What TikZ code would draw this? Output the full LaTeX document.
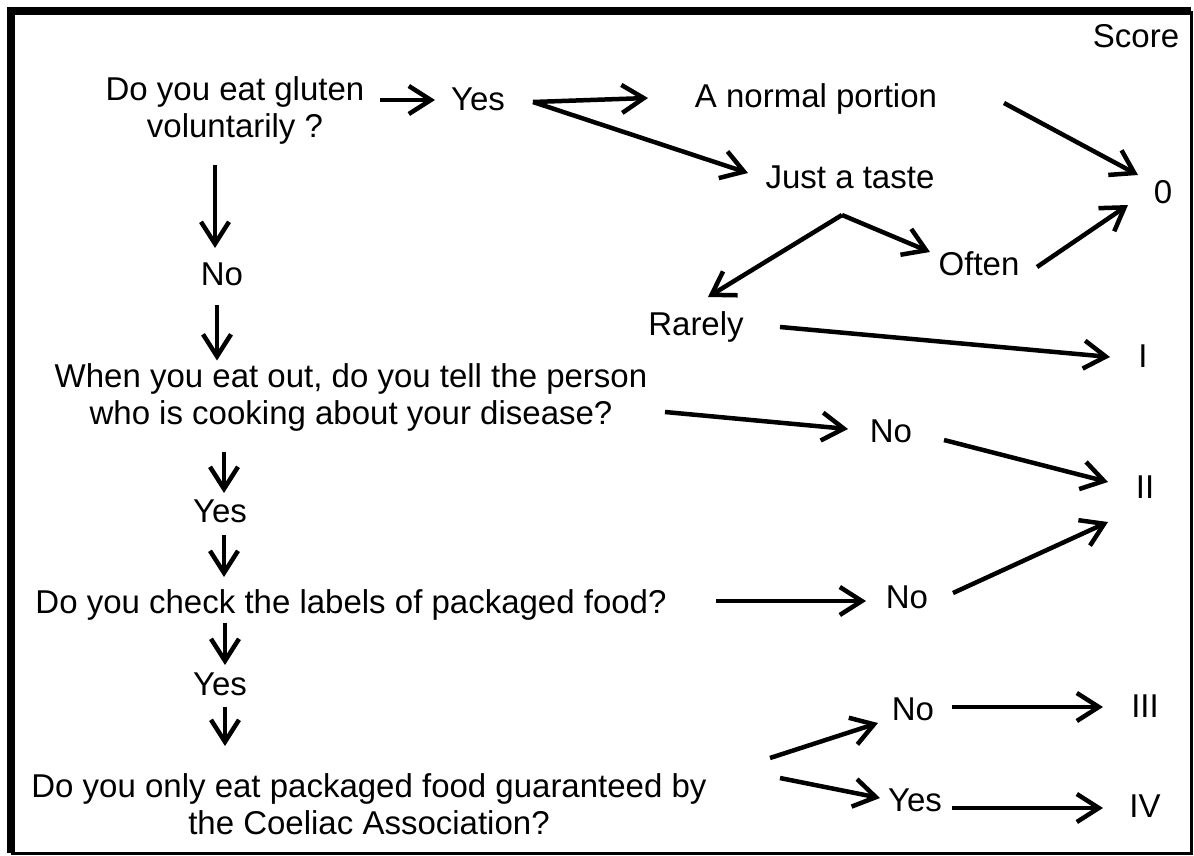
\documentclass[tikz,border=0pt]{standalone}
\usepackage{fontspec}
\setmainfont{Liberation Sans}
\usepackage{tikz}
\usetikzlibrary{arrows.meta,calc}

\begin{document}
\begin{tikzpicture}[x=1pt, y=-1pt, >={Straight Barb[length=22pt,width=28pt]},
    txt/.style={inner sep=0pt, anchor=base, font=\fontsize{33}{37}\selectfont},
    qtxt/.style={txt, anchor=center, align=center},
    arr/.style={->, line width=4.5pt}]
  \useasboundingbox (0,0) rectangle (1194,856);
  % frame
  \draw[line width=8pt] (11,853) -- (11,11) -- (1191,11);
  \draw[line width=3pt] (11,853) -- (1191,853) -- (1191,11);

  % questions and answers
  \node[txt] (score) at (1136,48) {Score};
  \node[qtxt] (gluten) at (235,110) {Do you eat gluten\\voluntarily ?};
  \node[txt] (yesA) at (478,111) {Yes};
  \node[txt] (portion) at (816,108) {A normal portion};
  \node[txt] (taste) at (850,188) {Just a taste};
  \node[txt] (zero) at (1163,203) {0};
  \node[txt] (often) at (979,275) {Often};
  \node[txt] (rarely) at (696,335) {Rarely};
  \node[txt] (one) at (1143,367) {I};
  \node[txt] (noA) at (222,285) {No};
  \node[qtxt] (tell) at (351,397) {When you eat out, do you tell the person\\who is cooking about your disease?};
  \node[txt] (noB) at (891,442) {No};
  \node[txt] (two) at (1145,498) {II};
  \node[txt] (yesB) at (220,522) {Yes};
  \node[txt] (check) at (351,613) {Do you check the labels of packaged food?};
  \node[txt] (noC) at (907,608) {No};
  \node[txt] (yesC) at (220,695) {Yes};
  \node[qtxt] (only) at (369,804) {Do you only eat packaged food guaranteed by\\the Coeliac Association?};
  \node[txt] (noD) at (913,720) {No};
  \node[txt] (three) at (1145,717) {III};
  \node[txt] (yesD) at (915,811) {Yes};
  \node[txt] (four) at (1145,817) {IV};

  \coordinate (yesfork) at ($(yesA.base)+(55,-9)$);
  \coordinate (tastefork) at ($(taste.base)+(-8,27)$);

  % top branch
  \draw[arr] ($(gluten.center)+(145,-10)$) -- ($(yesA.base)+(-43,-11)$);
  \draw[arr] (yesfork) -- ($(portion.base)+(-168,-10)$);
  \draw[arr] (yesfork) -- ($(taste.base)+(-102,-15)$);
  \draw[arr] ($(portion.base)+(188,-5)$) -- ($(zero.base)+(-25,-28)$);
  \draw[arr] (tastefork) -- ($(often.base)+(-49,-23)$);
  \draw[arr] (tastefork) -- ($(rarely.base)+(12,-38)$);
  \draw[arr] ($(often.base)+(58,-8)$) -- ($(zero.base)+(-35,2)$);
  \draw[arr] ($(rarely.base)+(84,-8)$) -- ($(one.base)+(-33,-10)$);

  % main column
  \draw[arr] ($(gluten.center)+(-20,55)$) -- ($(noA.base)+(-7,-37)$);
  \draw[arr] ($(noA.base)+(-5,20)$) -- ($(tell.center)+(-134,-36.5)$);
  \draw[arr] ($(tell.center)+(-127,55)$) -- ($(yesB.base)+(4,-29)$);
  \draw[arr] ($(yesB.base)+(4,13)$) -- ($(check.base)+(-127,-36)$);
  \draw[arr] ($(check.base)+(-126,10)$) -- ($(yesC.base)+(5,-30)$);
  \draw[arr] ($(yesC.base)+(5,12)$) -- ($(only.center)+(-144,-58)$);

  % right branches
  \draw[arr] ($(tell.center)+(314,15)$) -- ($(noB.base)+(-43,-13)$);
  \draw[arr] ($(noB.base)+(53,-2)$) -- ($(two.base)+(-37,-16)$);
  \draw[arr] ($(check.base)+(365,-12)$) -- ($(noC.base)+(-41,-7)$);
  \draw[arr] ($(noC.base)+(46,-15)$) -- ($(two.base)+(-37,24)$);
  \draw[arr] ($(only.center)+(401,-46)$) -- ($(noD.base)+(-35,3)$);
  \draw[arr] ($(only.center)+(411,-26)$) -- ($(yesD.base)+(-35,-13)$);
  \draw[arr] ($(noD.base)+(39,-13)$) -- ($(three.base)+(-42,-10)$);
  \draw[arr] ($(yesD.base)+(37,-3)$) -- ($(four.base)+(-42,-9)$);
\end{tikzpicture}
\end{document}
